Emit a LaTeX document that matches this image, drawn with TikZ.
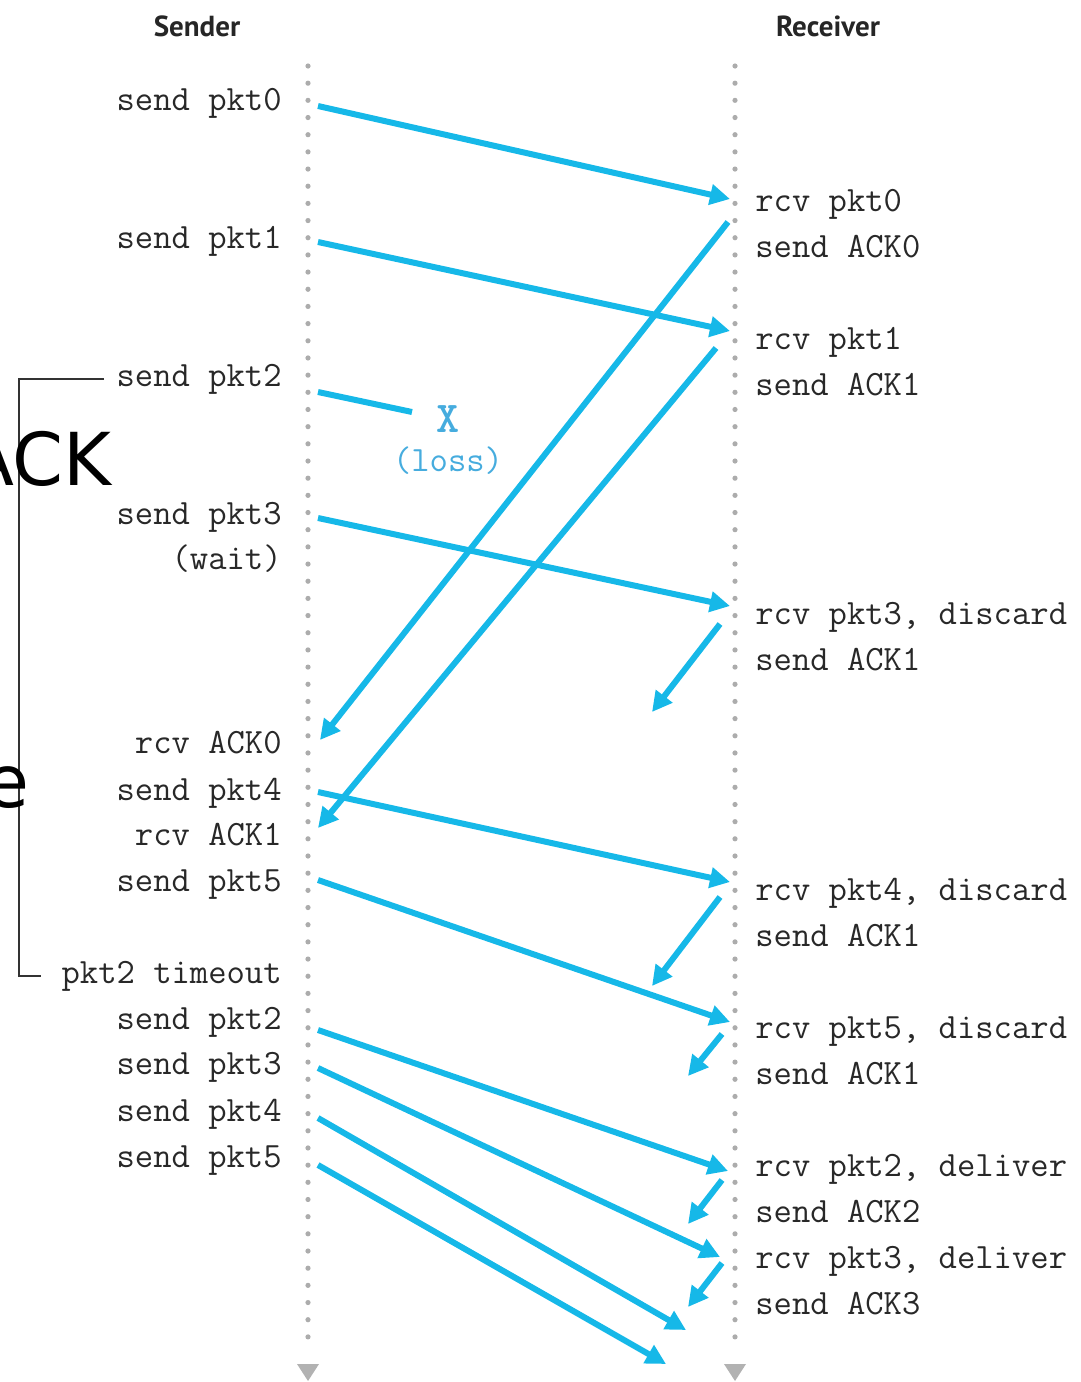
\documentclass[tikz,border=0pt]{standalone}
\usepackage{fontspec}
\setsansfont{PT Sans}
\newfontfamily\bigfont{DejaVu Sans}
\usetikzlibrary{arrows.meta}
\definecolor{pktblue}{RGB}{22,184,232}
\definecolor{lossblue}{RGB}{70,172,222}
\definecolor{labelgray}{RGB}{40,40,40}

\begin{document}
\begin{tikzpicture}[x=0.5pt,y=-0.5pt,
	every node/.style={inner sep=0pt,text=labelgray,font=\ttfamily\fontsize{17.8}{20}\selectfont},
	lbl/.style={anchor=base east},
	rlbl/.style={anchor=base west},
	title/.style={anchor=base,font=\sffamily\bfseries\fontsize{14.5}{17}\selectfont,text=black!85},
	timeline/.style={gray!65,line width=2.6pt,line cap=round,dash pattern=on 0pt off 8.587pt},
	pkt/.style={pktblue,line width=3pt,-{Triangle[length=10pt,width=10pt]}},
	bracket/.style={black!80,line width=0.7pt}]
	\useasboundingbox (0,0) rectangle (1081,1382);
	\clip (0,0) rectangle (1081,1382);
	\node[title] (snd) at (197,36) {Sender};
	\node[title] (rcv) at (828,36) {Receiver};
	\coordinate (sT) at (308,66); \coordinate (sB) at (308,1354);
	\coordinate (rT) at (735,66); \coordinate (rB) at (735,1354);
	\draw[timeline] (sT) -- (sB);
	\draw[timeline] (rT) -- (rB);
	\fill[gray!60] (sB) ++(-11,10) -- ++(22,0) -- ++(-11,17) -- cycle;
	\fill[gray!60] (rB) ++(-11,10) -- ++(22,0) -- ++(-11,17) -- cycle;
	\foreach \n/\y/\t in {s0/110/send pkt0, s1/248/send pkt1, s2/386/send pkt2, s3/524/send pkt3, wt/569/(wait), a0/753/rcv ACK0, s4/800/send pkt4, a1/845/rcv ACK1, s5/891/send pkt5, tmo/983/pkt2 timeout, t2/1029/send pkt2, t3/1074/send pkt3, t4/1121/send pkt4, t5/1167/send pkt5}
		\node[lbl] (\n) at (282,\y) {\t};
	\foreach \n/\y/\t in {q0/211/rcv pkt0, k0/257/send ACK0, q1/349/rcv pkt1, k1/395/send ACK1, q3/624/{rcv pkt3, discard}, k3/670/send ACK1, q4/900/{rcv pkt4, discard}, k4/946/send ACK1, q5/1038/{rcv pkt5, discard}, k5/1084/send ACK1, d2/1176/{rcv pkt2, deliver}, m2/1222/send ACK2, d3/1268/{rcv pkt3, deliver}, m3/1314/send ACK3}
		\node[rlbl] (\n) at (755,\y) {\t};
	\foreach \n/\a/\b/\c/\d in {pa0/318/106/730/199, pa1/318/242/730/331, pa3/318/518/730/606, ak0/728/222/320/740, ak1/716/348/318/828, ak1b/720/624/652/712, pa4/318/792/730/882, pa5/318/880/730/1022, ak1c/720/897/652/986, ak1d/722/1034/688/1076, pb2/318/1030/728/1171, pb3/318/1068/720/1257, pb4/318/1118/686/1330, pb5/318/1165/666/1364, ak2/722/1180/688/1224, ak3/722/1263/688/1307}
	{
		\coordinate (\n a) at (\a,\b); \coordinate (\n b) at (\c,\d);
		\draw[pkt] (\n a) -- (\n b);
	}
	\coordinate (pa2a) at (318,392); \coordinate (pa2b) at (412,412);
	\draw[pktblue,line width=3pt] (pa2a) -- (pa2b);
	\node[text=lossblue,font=\ttfamily\bfseries\fontsize{22}{24}\selectfont] (lx) at (448,419) {X};
	\node[text=lossblue] (loss) at (448,461) {(loss)};
	\draw[bracket] ([xshift=-6pt]s2.west) -- ([xshift=-48.5pt]s2.west) |- ([xshift=-10pt]tmo.west);
	\node[anchor=base east,text=black,font=\bigfont\fontsize{36.5}{40}\selectfont] (ovA) at (112,485) {ACK};
	\node[anchor=base east,text=black,font=\bigfont\fontsize{36.5}{40}\selectfont] (ovE) at (30,807) {e};
\end{tikzpicture}
\end{document}
